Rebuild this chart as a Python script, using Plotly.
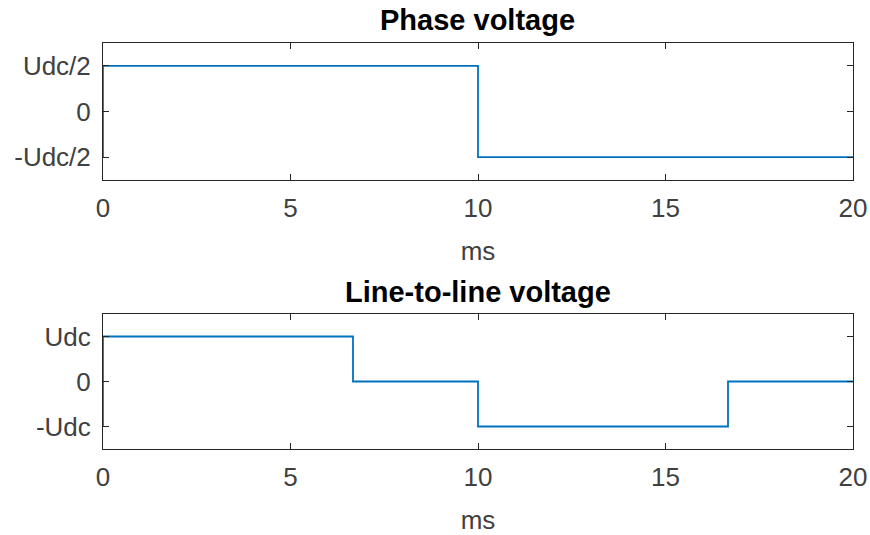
import plotly.graph_objects as go

# Data
t_phase = [0, 0, 10, 10, 20]
v_phase = [-1, 1, 1, -1, -1]
t_line = [0, 0, 20/3, 20/3, 10, 10, 50/3, 50/3, 20]
v_line = [-1, 1, 1, 0, 0, -1, -1, 0, 0]

x_ticks = [0, 5, 10, 15, 20]
y_ticks = [-1, 0, 1]
phase_labels = ["-Udc/2", "0", "Udc/2"]
line_labels = ["-Udc", "0", "Udc"]
titles = ["Phase voltage", "Line-to-line voltage"]
x_label = "ms"

W, H = 870, 535
fig = go.Figure()
blue = "#0072BD"
axc = "#262626"
fnt = "Liberation Sans, Arial, sans-serif"
TS = 26


def px_x(p):
    return p / W


def px_y(p):
    return 1 - p / H


fig.add_trace(go.Scatter(x=t_phase, y=v_phase, mode="lines",
                         line=dict(color=blue, width=1.8), xaxis="x", yaxis="y", showlegend=False))
fig.add_trace(go.Scatter(x=t_line, y=v_line, mode="lines",
                         line=dict(color=blue, width=1.8), xaxis="x2", yaxis="y2", showlegend=False))

xd = [px_x(103), px_x(853)]
top_dom = [px_y(180), px_y(43)]
bot_dom = [px_y(449), px_y(314)]

common_x = dict(range=[0, 20], tickvals=x_ticks, ticktext=[str(v) for v in x_ticks],
                ticks="inside", ticklen=6, tickcolor=axc, tickwidth=1,
                showline=True, linecolor=axc, linewidth=1, mirror="allticks",
                showgrid=False, zeroline=False, automargin=False,
                ticklabelstandoff=5,
                tickfont=dict(family=fnt, size=TS, color="#404040"),
                title=dict(text=x_label, font=dict(family=fnt, size=TS, color="#404040"), standoff=19),
                domain=xd)
common_y = dict(range=[-1.5, 1.5], tickvals=y_ticks,
                ticks="inside", ticklen=6, tickcolor=axc, tickwidth=1,
                showline=True, linecolor=axc, linewidth=1, mirror="allticks",
                showgrid=False, zeroline=False, automargin=False,
                ticklabelstandoff=6,
                tickfont=dict(family=fnt, size=TS, color="#404040"))

fig.update_layout(
    width=W, height=H,
    margin=dict(l=0, r=0, t=0, b=0, autoexpand=False),
    paper_bgcolor="white", plot_bgcolor="white",
    xaxis=dict(common_x, anchor="y"),
    yaxis=dict(common_y, domain=top_dom, ticktext=phase_labels, anchor="x"),
    xaxis2=dict(common_x, anchor="y2"),
    yaxis2=dict(common_y, domain=bot_dom, ticktext=line_labels, anchor="x2"),
    annotations=[
        dict(text="<b>%s</b>" % titles[0], x=px_x(478), y=px_y(20), xref="paper", yref="paper",
             showarrow=False, font=dict(family=fnt, size=29, color="black"), xanchor="center", yanchor="middle"),
        dict(text="<b>%s</b>" % titles[1], x=px_x(478), y=px_y(292), xref="paper", yref="paper",
             showarrow=False, font=dict(family=fnt, size=29, color="black"), xanchor="center", yanchor="middle"),
    ],
)

fig.write_html("out.html", config={"displayModeBar": False},
               post_script="document.body.style.margin='0';document.body.style.overflow='hidden';")
